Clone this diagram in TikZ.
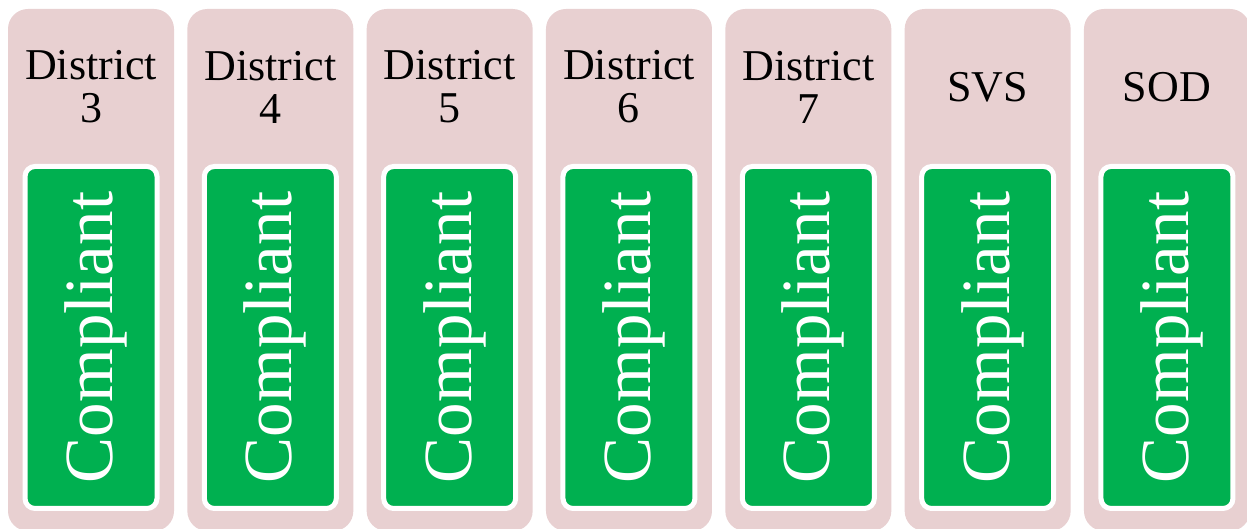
\documentclass[tikz,border=0pt]{standalone}
\usepackage{fontspec}
\setmainfont{Liberation Serif}
\usetikzlibrary{positioning}

\definecolor{colpink}{RGB}{232,208,209}
\definecolor{okgreen}{RGB}{0,176,80}

\tikzset{
  column/.style={fill=colpink, rounded corners=20pt, minimum width=166pt,
    minimum height=522pt, inner sep=0pt, outer sep=0pt},
  head/.style={align=center, font=\fontsize{44}{43}\selectfont},
  status/.style={fill=okgreen, draw=white, line width=5pt, rounded corners=10pt,
    minimum width=132pt, minimum height=342pt, inner sep=0pt},
  verdict/.style={rotate=90, text=white, font=\fontsize{69}{69}\selectfont}
}

\begin{document}
\begin{tikzpicture}[x=1pt,y=1pt,node distance=13.33pt]

  \useasboundingbox (0,0) rectangle (1247,529);

  % the seven columns
  \node[column] (c1) at (91,259) {};
  \node[column] (c2) [right=of c1] {};
  \node[column] (c3) [right=of c2] {};
  \node[column] (c4) [right=of c3] {};
  \node[column] (c5) [right=of c4] {};
  \node[column] (c6) [right=of c5] {};
  \node[column] (c7) [right=of c6] {};

  % column headings
  \node[head] (h1) at ([yshift=-78pt]c1.north) {District\\3};
  \node[head] (h2) at ([yshift=-78pt]c2.north) {District\\4};
  \node[head] (h3) at ([yshift=-78pt]c3.north) {District\\5};
  \node[head] (h4) at ([yshift=-78pt]c4.north) {District\\6};
  \node[head] (h5) at ([yshift=-78pt]c5.north) {District\\7};
  \node[head] (h6) at ([yshift=-78pt]c6.north) {SVS};
  \node[head] (h7) at ([yshift=-78pt]c7.north) {SOD};

  % green status boxes
  \node[status] (g1) [below=155pt of c1.north] {};
  \node[status] (g2) [below=155pt of c2.north] {};
  \node[status] (g3) [below=155pt of c3.north] {};
  \node[status] (g4) [below=155pt of c4.north] {};
  \node[status] (g5) [below=155pt of c5.north] {};
  \node[status] (g6) [below=155pt of c6.north] {};
  \node[status] (g7) [below=155pt of c7.north] {};

  \node[verdict] (v1) at ([xshift=5pt]g1.center) {Compliant};
  \node[verdict] (v2) at ([xshift=5pt]g2.center) {Compliant};
  \node[verdict] (v3) at ([xshift=5pt]g3.center) {Compliant};
  \node[verdict] (v4) at ([xshift=5pt]g4.center) {Compliant};
  \node[verdict] (v5) at ([xshift=5pt]g5.center) {Compliant};
  \node[verdict] (v6) at ([xshift=5pt]g6.center) {Compliant};
  \node[verdict] (v7) at ([xshift=5pt]g7.center) {Compliant};

\end{tikzpicture}
\end{document}
